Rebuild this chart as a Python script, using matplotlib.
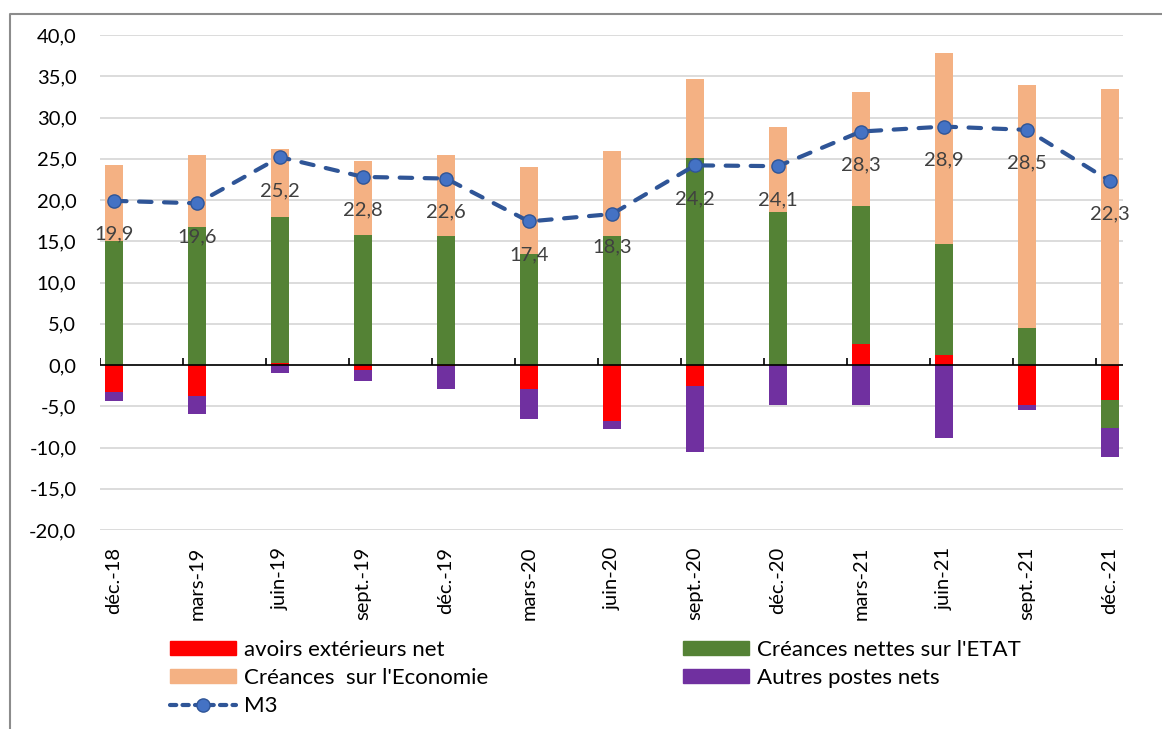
import numpy as np
import matplotlib
matplotlib.use('Agg')
import matplotlib.pyplot as plt
from matplotlib.lines import Line2D
from matplotlib.patches import Patch

categories = ['déc.-18', 'mars-19', 'juin-19', 'sept.-19', 'déc.-19', 'mars-20', 'juin-20',
              'sept.-20', 'déc.-20', 'mars-21', 'juin-21', 'sept.-21', 'déc.-21']
avoirs_ext = [-3.3, -3.8, 0.3, -0.6, -0.1, -2.9, -6.8, -2.6, 0.0, 2.5, 1.2, -4.8, -4.2]
creances_etat = [15.0, 16.7, 17.7, 15.7, 15.6, 13.4, 15.6, 25.1, 18.5, 16.8, 13.5, 4.5, -3.4]
creances_eco = [9.3, 8.8, 8.2, 9.0, 9.9, 10.6, 10.4, 9.6, 10.4, 13.8, 23.1, 29.4, 33.5]
autres_postes = [-1.1, -2.1, -1.0, -1.3, -2.8, -3.7, -0.9, -7.9, -4.8, -4.8, -8.9, -0.6, -3.6]
m3 = [19.9, 19.6, 25.2, 22.8, 22.6, 17.4, 18.3, 24.2, 24.1, 28.3, 28.9, 28.5, 22.3]
y_ticks = list(range(-20, 45, 5))

series_names = ["avoirs extérieurs net", "Créances nettes sur l'ETAT",
                "Créances  sur l'Economie", "Autres postes nets"]
series_vals = [avoirs_ext, creances_etat, creances_eco, autres_postes]
series_cols = ['#FF0000', '#548235', '#F4B183', '#7030A0']

plt.rcParams['font.family'] = ['Lato', 'DejaVu Sans']
FS = 14.5
LFS = 16.0

fig = plt.figure(figsize=(11.62, 7.29), dpi=100)
W, H = 1162, 729
ax = fig.add_axes([100 / W, 1 - 530 / H, (1123 - 100) / W, (530 - 35) / H])

x = np.arange(len(categories))
off = 0.169
bw = 0.223

pos_b = np.zeros(len(x))
neg_b = np.zeros(len(x))
for vals, col in zip(series_vals, series_cols):
    v = np.array(vals, dtype=float)
    bottom = np.where(v >= 0, pos_b, neg_b)
    ax.bar(x, v, bw, bottom=bottom, color=col, zorder=2, linewidth=0)
    pos_b = pos_b + np.where(v >= 0, v, 0)
    neg_b = neg_b + np.where(v < 0, v, 0)

ax.plot(x, m3, color='#2F5597', lw=3.0, dashes=(3, 3), dash_capstyle='round',
        marker='o', markersize=9.5, markerfacecolor='#4472C4', markeredgecolor='#2F5597',
        markeredgewidth=1.0, zorder=4)
for xi, v in zip(x, m3):
    ax.annotate(f"{v:.1f}".replace('.', ','), (xi, v), xytext=(0, -24),
                textcoords='offset points', ha='center', va='center',
                fontsize=FS, color='#404040', zorder=5)

ax.set_xlim(-off, 12.157)
ax.set_ylim(-20, 40)
ax.set_yticks(y_ticks)
ax.set_yticklabels([f"{t:.1f}".replace('.', ',') for t in y_ticks], fontsize=FS)
ax.yaxis.grid(True, color='#D9D9D9', lw=1.3, zorder=0)
ax.set_axisbelow(True)
ax.tick_params(axis='y', length=0, pad=17)
ax.set_xticks(x)
ax.set_xticklabels(categories, rotation=90, fontsize=FS, va='top')
ax.tick_params(axis='x', length=0, pad=12)
for s in ax.spines.values():
    s.set_visible(False)

ax.axhline(0, color='black', lw=1.2, zorder=3)
ax.vlines(x - off, 0, 0.8, color='black', lw=1.2, zorder=3)

handles = [Patch(color=series_cols[0]), Patch(color=series_cols[2]),
           Line2D([], [], color='#2F5597', lw=3.0, dashes=(1.5, 1.5), dash_capstyle='round',
                  marker='o', markersize=9.5, markerfacecolor='#4472C4', markeredgecolor='#2F5597'),
           Patch(color=series_cols[1]), Patch(color=series_cols[3])]
labels = [series_names[0], series_names[2], 'M3', series_names[1], series_names[3]]
fig.legend(handles, labels, ncol=2, loc='upper left', bbox_to_anchor=(170 / W, 1 - 640 / H),
           frameon=False, fontsize=LFS, handlelength=2.97, handleheight=0.6,
           handletextpad=0.36, columnspacing=8.75, labelspacing=0.36, borderaxespad=0,
           borderpad=0)

fig.add_artist(Line2D([10 / W, 10 / W, 1.0], [0.0, 1 - 13.5 / H, 1 - 13.5 / H],
                      transform=fig.transFigure, color='#8C8C8C', lw=1.5))

fig.savefig('out.png', dpi=100)
